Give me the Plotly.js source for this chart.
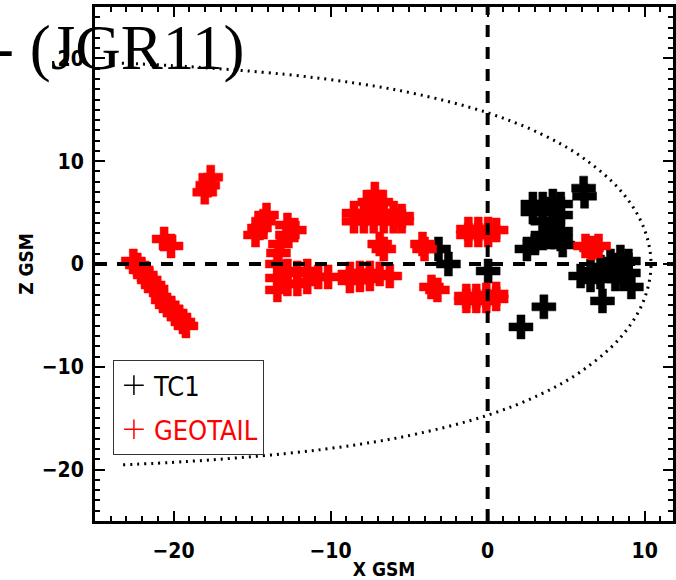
<!DOCTYPE html>
<html>
<head>
<meta charset="utf-8">
<script src="https://cdn.plot.ly/plotly-3.0.1.min.js"></script>
<style>html,body{margin:0;padding:0;background:#fff;}#chart{width:676px;height:580px;}</style>
</head>
<body>
<div id="chart"></div>
<script>
// TC1 positions (X GSM, Z GSM)
var tc1X = [-3.13, -2.50, 0.03, 6.11, 6.17,
            2.88, 2.88, 3.51, 3.51, 3.51, 4.15, 4.15, 4.15, 4.65, 4.65, 4.65, 4.65,
            2.50, 3.01, 3.51, 4.02, 4.78,
            5.92, 6.55, 6.55, 7.18, 7.18, 7.82, 7.82, 8.45, 8.45, 8.96, 8.96, 9.15, 8.13,
            7.31, 3.58, 2.12];
var tc1Z = [1.46, 0.00, -0.68, 7.38, 6.60,
            5.83, 5.05, 5.83, 5.05, 4.17, 6.12, 5.05, 4.17, 5.83, 4.76, 3.20, 2.43,
            1.46, 2.04, 2.52, 2.62, 1.84,
            -1.17, -0.68, -1.55, -0.29, -1.26, 0.29, -0.68, 0.68, -0.29, 0.29, -0.87, -2.23, -1.46,
            -3.59, -4.17, -6.12];

// GEOTAIL positions (X GSM, Z GSM)
var geoX = [-22.56, -22.31, -22.06, -21.80, -21.55, -21.30, -21.11,
            -20.66, -20.41, -20.16, -19.90, -19.65, -19.40, -19.21,
            -20.60, -20.16,
            -18.01, -17.82, -17.63,
            -14.78, -14.53, -14.27, -14.08,
            -12.75, -12.31, -12.75, -13.20, -13.32,
            -13.39, -13.39, -13.39, -12.75, -12.75, -12.12, -12.12, -11.49, -11.49, -10.79, -10.16,
            -8.77, -8.77, -8.13, -8.13, -7.50, -7.50, -6.87, -6.23,
            -7.18, -7.50, -6.80,
            -8.51, -7.88, -7.25, -6.61, -5.98, -5.47, -8.51, -7.88, -7.25, -6.61, -5.98, -5.47,
            -6.87, -6.61, -4.15, -4.02, -3.58, -3.20,
            -1.23, -0.60, 0.03, 0.54, -1.23, -0.60, 0.03,
            -1.36, -0.73, -0.09, 0.54, -1.36, -0.73, -0.09, 0.54,
            6.23, 7.06, 6.61];
var geoZ = [0.29, -0.10, -0.58, -1.07, -1.55, -2.04, -2.43,
            -3.50, -3.98, -4.37, -4.76, -5.15, -5.63, -6.02,
            2.43, 1.75,
            6.99, 7.67, 8.45,
            2.82, 3.50, 4.17, 4.76,
            3.79, 3.30, 2.82, 1.94, 1.07,
            0.00, -1.36, -2.52, -0.68, -1.94, -0.87, -1.94, -0.68, -1.75, -1.26, -1.26,
            -0.97, -1.65, -0.87, -1.55, -0.87, -1.46, -0.97, -1.17,
            6.80, 6.02, 6.02,
            4.95, 4.95, 4.95, 4.95, 4.95, 4.66, 4.17, 4.17, 4.17, 4.17, 4.17, 4.17,
            1.94, 1.46, 1.94, 1.46, -2.23, -2.52,
            3.40, 3.40, 3.40, 3.30, 2.82, 2.82, 2.82,
            -3.11, -3.11, -3.01, -2.91, -3.59, -3.59, -3.59, -3.40,
            1.75, 1.75, 1.55];

// Magnetopause boundary (dotted curve)
var mpX = [-23.29, -19.22, -12.92, -8.18, -4.42, 0.00, 3.39, 6.00, 8.48, 9.92, 10.40,
           9.92, 8.48, 6.00, 3.39, 0.00, -4.42, -8.18, -12.92, -19.22, -23.29];
var mpZ = [19.54, 19.22, 18.45, 17.54, 16.50, 14.71, 12.66, 10.40, 7.11, 3.61, 0.00,
           -3.61, -7.11, -10.40, -12.66, -14.71, -16.50, -17.54, -18.45, -19.22, -19.54];

var xTicks = [-20, -10, 0, 10];
var zTicks = [-20, -10, 0, 10, 20];
var xRange = [-25, 11.8];
var zRange = [-25, 25];

var narrow = '"Liberation Sans Narrow", "DejaVu Sans Condensed", "Roboto Condensed", Arial, sans-serif';

var traces = [
  {x: tc1X, y: tc1Z, type: 'scatter', mode: 'markers', showlegend: false, cliponaxis: true,
   marker: {symbol: 'cross', size: 20, color: '#000000', line: {width: 0.5, color: '#000000'}}},
  {x: geoX, y: geoZ, type: 'scatter', mode: 'markers', showlegend: false, cliponaxis: true,
   marker: {symbol: 'cross', size: 20, color: '#ff0000', line: {width: 0.5, color: '#ff0000'}}},
  {x: mpX, y: mpZ, type: 'scatter', mode: 'lines', showlegend: false, hoverinfo: 'skip',
   line: {color: '#000000', width: 3, dash: '2px,5px', shape: 'spline', smoothing: 1}},
  {x: [null], y: [null], type: 'scatter', mode: 'markers', name: 'TC1', legendgroup: 'a',
   marker: {symbol: 'cross-thin-open', size: 14, color: '#000000', line: {width: 1.5, color: '#000000'}}},
  {x: [null], y: [null], type: 'scatter', mode: 'markers', name: '<span style="color:#ff0000">GEOTAIL</span>', legendgroup: 'b',
   marker: {symbol: 'cross-thin-open', size: 14, color: '#ff0000', line: {width: 1.5, color: '#ff0000'}}}
];

var axisCommon = {
  showgrid: false, zeroline: false, showline: true, linewidth: 3, linecolor: '#000',
  mirror: 'ticks', ticks: 'inside', ticklen: 10, tickwidth: 2, tickcolor: '#000',
  minor: {dtick: 1, ticks: 'inside', ticklen: 5, tickwidth: 2, tickcolor: '#000'},
  tickfont: {family: narrow, size: 21, color: '#000', weight: 'bold'},
  automargin: false
};

var layout = {
  width: 676, height: 580,
  margin: {l: 95, r: 3, t: 7, b: 59},
  paper_bgcolor: '#fff', plot_bgcolor: '#fff',
  xaxis: Object.assign({}, axisCommon, {
    range: xRange, tickmode: 'array', tickvals: xTicks, ticklabelstandoff: 9,
    title: {text: 'X GSM', font: {family: narrow, size: 19, color: '#000', weight: 'bold'}, standoff: 6}
  }),
  yaxis: Object.assign({}, axisCommon, {
    range: zRange, tickmode: 'array', tickvals: zTicks, ticklabelstandoff: 4,
    title: {text: 'Z GSM', font: {family: narrow, size: 19, color: '#000', weight: 'bold'}, standoff: 4}
  }),
  shapes: [
    {type: 'line', xref: 'x', yref: 'paper', x0: 0, x1: 0, y0: 0, y1: 1, layer: 'above',
     line: {color: '#000', width: 4, dash: '12px,10px'}},
    {type: 'line', xref: 'paper', yref: 'y', x0: 0, x1: 1, y0: 0, y1: 0, layer: 'above',
     line: {color: '#000', width: 4, dash: '12px,10px'}}
  ],
  legend: {
    x: 0.031, y: 0.313, xanchor: 'left', yanchor: 'top',
    bgcolor: 'rgba(255,255,255,0)', bordercolor: '#333', borderwidth: 1,
    font: {family: narrow, size: 27, color: '#000'},
    traceorder: 'grouped', tracegroupgap: 6, itemwidth: 30
  },
  annotations: [
    {text: '- (JGR11)', xref: 'paper', yref: 'paper', x: 0.261, y: 0.992,
     xanchor: 'right', yanchor: 'top', showarrow: false,
     font: {family: '"Liberation Serif", "Times New Roman", serif', size: 63, color: '#000'}}
  ],
  showlegend: true
};

Plotly.newPlot('chart', traces, layout, {staticPlot: true, displayModeBar: false});
</script>
</body>
</html>
